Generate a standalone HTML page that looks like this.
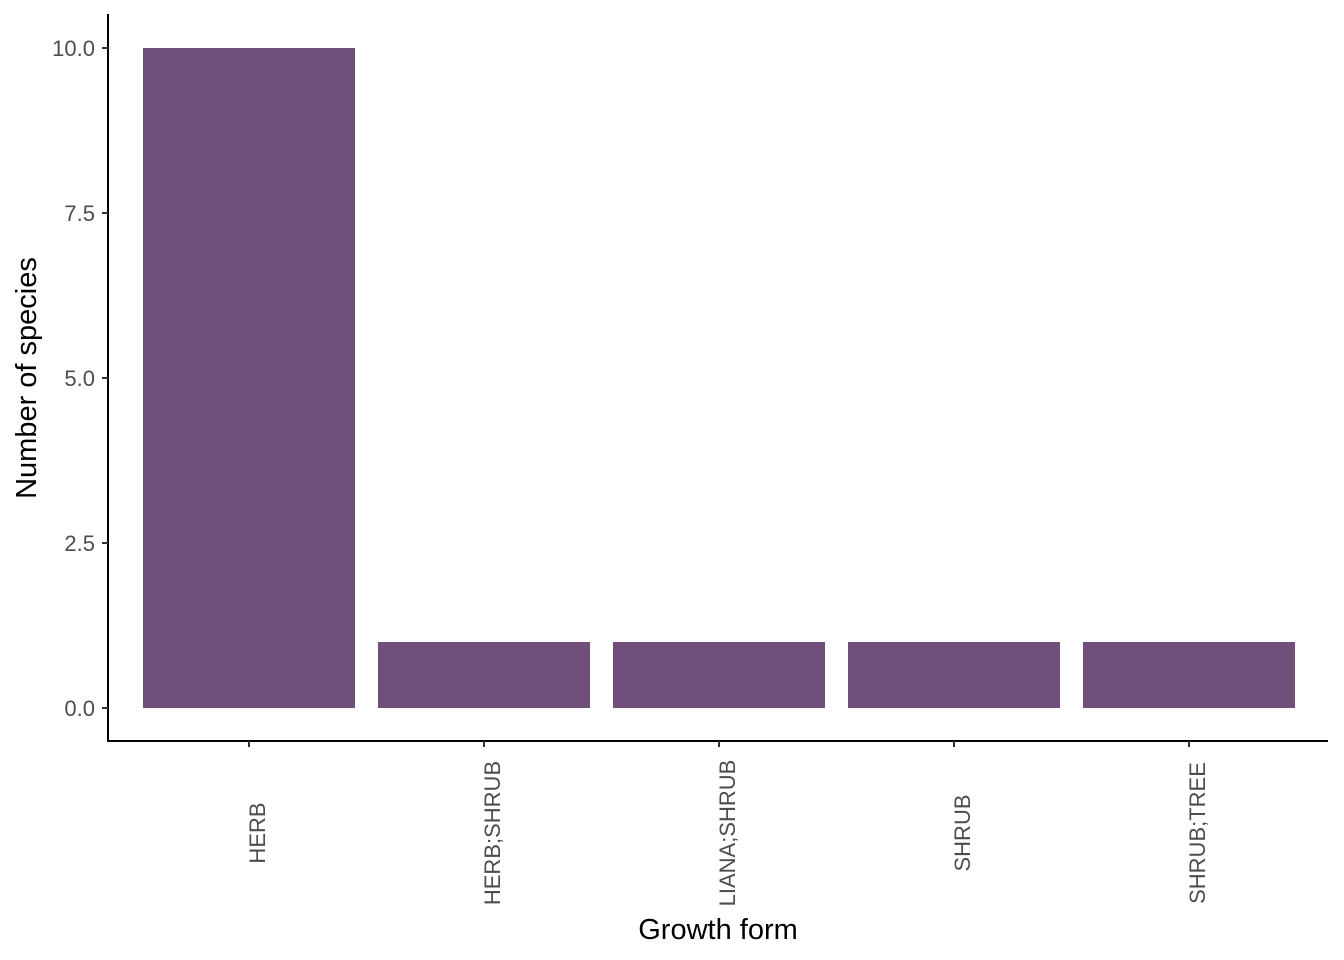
<!DOCTYPE html>
<html><head><meta charset="utf-8"><style>
html,body{margin:0;padding:0;background:#fff;}
svg{display:block;font-family:"Liberation Sans",Arial,sans-serif;}
</style></head><body>
<svg id="chart" width="1344" height="960">
<g id="bars"></g>
<g id="yaxis"></g>
<g id="xaxis"></g>
<text x="718" y="939" font-size="29" text-anchor="middle" fill="#000">Growth form</text>
<text transform="translate(36,378) rotate(-90)" font-size="29" text-anchor="middle" fill="#000">Number of species</text>
</svg>
<script>
const categories = ["HERB","HERB;SHRUB","LIANA;SHRUB","SHRUB","SHRUB;TREE"];
const values = [10,1,1,1,1];
const yTicks = [0,2.5,5,7.5,10];
const yTickLabels = ["0.0","2.5","5.0","7.5","10.0"];

const NS="http://www.w3.org/2000/svg";
const y0=708, y10=48;
function yScale(v){return y0+(y10-y0)*v/10;}
const bandStep=235;
function xCenter(i){return 249+i*bandStep;}
const barW=212;
function mk(tag,attrs,parent){const e=document.createElementNS(NS,tag);for(const k in attrs)e.setAttribute(k,attrs[k]);parent.appendChild(e);return e;}
const bars=document.getElementById('bars'),ya=document.getElementById('yaxis'),xa=document.getElementById('xaxis');
values.forEach((v,i)=>{
  const r=mk('rect',{x:xCenter(i)-barW/2,y:yScale(v),width:barW,height:y0-yScale(v),fill:'#704F7A'},bars);
  
  
});
const yl=mk('line',{x1:108,y1:14,x2:108,y2:741,stroke:'#000','stroke-width':2},ya);


yTicks.forEach((t,i)=>{
  const y=yScale(t);
  const tk=mk('line',{x1:102,y1:y,x2:108,y2:y,stroke:'#333','stroke-width':2},ya);
  
  
  const tx=mk('text',{x:95,y:y+8,'font-size':22,'text-anchor':'end',fill:'#4d4d4d'},ya);
  tx.textContent=yTickLabels[i];
  
  
});
const xl=mk('line',{x1:107,y1:741,x2:1328,y2:741,stroke:'#000','stroke-width':2},xa);


categories.forEach((c,i)=>{
  const x=xCenter(i);
  const tk=mk('line',{x1:x,y1:741,x2:x,y2:747,stroke:'#333','stroke-width':2},xa);
  
  
  const tx=mk('text',{transform:`translate(${x+16},833) rotate(-90)`,'font-size':22,'text-anchor':'middle',fill:'#4d4d4d'},xa);
  tx.textContent=c;
  
  
});
</script>
</body></html>
